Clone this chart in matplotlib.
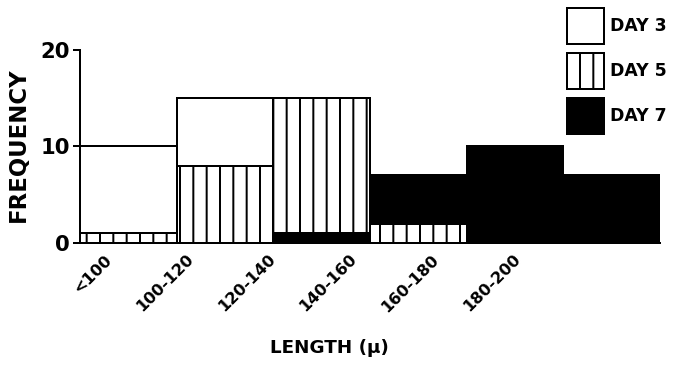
import matplotlib
matplotlib.use("Agg")
import matplotlib.pyplot as plt
from matplotlib.patches import Patch

categories = ["<100", "100-120", "120-140", "140-160", "160-180", "180-200"]
day3 = [10, 15, 0, 0, 0, 0]
day5 = [1, 8, 15, 2, 0, 0]
day7 = [0, 0, 1, 7, 10, 7]
series_names = ["DAY 3", "DAY 5", "DAY 7"]
yticks = [0, 10, 20]

DPI = 80
plt.rcParams["font.family"] = ["DejaVu Sans"]
plt.rcParams["font.weight"] = "bold"
plt.rcParams["axes.labelweight"] = "bold"
plt.rcParams["hatch.linewidth"] = 1.8
plt.rcParams["hatch.color"] = "black"

styles = [
    dict(facecolor="white", hatch=None),
    dict(facecolor="white", hatch="|"),
    dict(facecolor="black", hatch=None),
]

fig = plt.figure(figsize=(682 / DPI, 368 / DPI), dpi=DPI)
ax = fig.add_axes([0.117, 0.34, 0.851, 0.524])

all_series = [day3, day5, day7]
x = list(range(len(categories)))
for i in x:
    vals = [(s[i], k) for k, s in enumerate(all_series)]
    vals.sort(key=lambda t: -t[0])
    for rank, (v, k) in enumerate(vals):
        if v <= 0:
            continue
        st = styles[k]
        ax.bar(i, v, width=1.0, facecolor=st["facecolor"], hatch=st["hatch"],
               edgecolor="black", linewidth=1.8, zorder=2 + rank)

ax.set_xlim(-0.5, len(categories) - 0.5)
ax.set_ylim(0, 20)
ax.set_yticks(yticks)
ax.set_yticklabels([str(t) for t in yticks], fontsize=19)
ax.tick_params(axis="y", direction="out", length=6, width=1.8, pad=3)
ax.tick_params(axis="x", length=0, pad=8)
# label anchors (layout only): labels are packed slightly tighter than bins
label_pos = [-0.14 + 0.845 * i for i in x]
ax.set_xticks(label_pos)
ax.set_xticklabels(categories, rotation=45, ha="right", va="top", fontsize=14.5)

for side in ["top", "right"]:
    ax.spines[side].set_visible(False)
ax.spines["left"].set_linewidth(1.8)
ax.spines["bottom"].set_linewidth(1.8)
ax.spines["left"].set_zorder(10)

ax.set_ylabel("FREQUENCY", fontsize=20.5, fontweight="bold")
ax.yaxis.set_label_coords(-0.086, 0.51)
ax.set_xlabel("LENGTH (\u03bc)", fontsize=16.5, fontweight="bold")
ax.xaxis.set_label_coords(0.43, -0.50)

handles = [Patch(facecolor=styles[k]["facecolor"], hatch=styles[k]["hatch"],
                 edgecolor="black", linewidth=1.8, label=series_names[k])
           for k in range(3)]
leg = ax.legend(handles=handles, loc="upper right", bbox_to_anchor=(0.978, 0.978),
                bbox_transform=fig.transFigure, frameon=False, fontsize=15.5,
                handlelength=2.15, handleheight=2.8, handletextpad=0.35,
                labelspacing=0.55, borderaxespad=0.0, borderpad=0.0)

fig.savefig("out.png", dpi=DPI)
